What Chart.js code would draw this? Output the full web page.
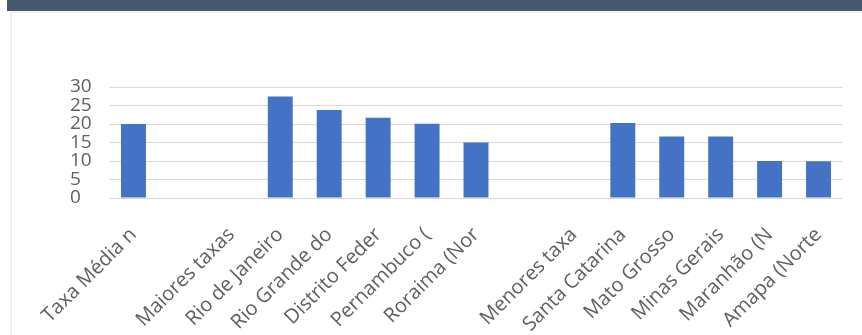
<!DOCTYPE html>
<html>
<head>
<meta charset="utf-8">
<script src="https://cdn.jsdelivr.net/npm/chart.js@4"></script>
<style>
    body { margin: 0; background: #ffffff; width: 862px; height: 335px; overflow: hidden; position: relative; }
    .barra { position: absolute; left: 7px; top: 0; width: 855px; height: 11px; background: #465870; }
    .tarjeta { position: absolute; left: 11px; top: 12px; width: 860px; height: 340px; background: #fff;
               border: 1px solid #ececec; box-shadow: 0 0 2px rgba(0,0,0,0.12); }
    .grafico { position: absolute; left: 0; top: 0; width: 862px; height: 335px; }
</style>
</head>
<body>
<div class="barra"></div>
<div class="tarjeta"></div>
<div class="grafico"><canvas id="chartTaxas"></canvas></div>
<script>
// Datos del gráfico
const categorias = [
    'Taxa Média n', '', 'Maiores taxas', 'Rio de Janeiro', 'Rio Grande do',
    'Distrito Feder', 'Pernambuco (', 'Roraima (Nor', '', 'Menores taxa',
    'Santa Catarina', 'Mato Grosso', 'Minas Gerais', 'Maranhão (N', 'Amapa (Norte'
];
const valores = [20, null, null, 27.4, 23.8, 21.7, 20.1, 15, null, null, 20.3, 16.6, 16.6, 10, 9.9];
const ticksY = [0, 5, 10, 15, 20, 25, 30];

const colorTexto = '#606060';

const ctx = document.getElementById('chartTaxas');
new Chart(ctx, {
    type: 'bar',
    data: {
        labels: categorias,
        datasets: [{
            data: valores,
            backgroundColor: '#4472C4',
            categoryPercentage: 1,
            barPercentage: 0.51
        }]
    },
    options: {
        responsive: true,
        maintainAspectRatio: false,
        animation: false,
        layout: { padding: { left: 70, top: 87, right: 19, bottom: 0 } },
        plugins: {
            legend: { display: false },
            tooltip: { enabled: false }
        },
        scales: {
            x: {
                grid: { display: false, drawTicks: false },
                border: { display: false },
                ticks: {
                    autoSkip: false,
                    minRotation: 45,
                    maxRotation: 45,
                    padding: 25,
                    color: colorTexto,
                    font: { family: 'Open Sans', size: 20 }
                },
                afterFit: function(scale) {
                    scale.height = 137;
                    scale.paddingLeft = 0;
                    scale.paddingRight = 0;
                }
            },
            y: {
                min: ticksY[0],
                max: ticksY[ticksY.length - 1],
                afterBuildTicks: function(scale) {
                    scale.ticks = ticksY.map(v => ({ value: v }));
                },
                grid: { color: '#d9d9d9', drawTicks: false, lineWidth: 1 },
                border: { display: false },
                ticks: {
                    autoSkip: false,
                    crossAlign: 'far',
                    padding: 0,
                    color: colorTexto,
                    font: { family: 'Open Sans', size: 19 }
                },
                afterFit: function(scale) {
                    scale.width = 39;
                }
            }
        }
    }
});
</script>
</body>
</html>
